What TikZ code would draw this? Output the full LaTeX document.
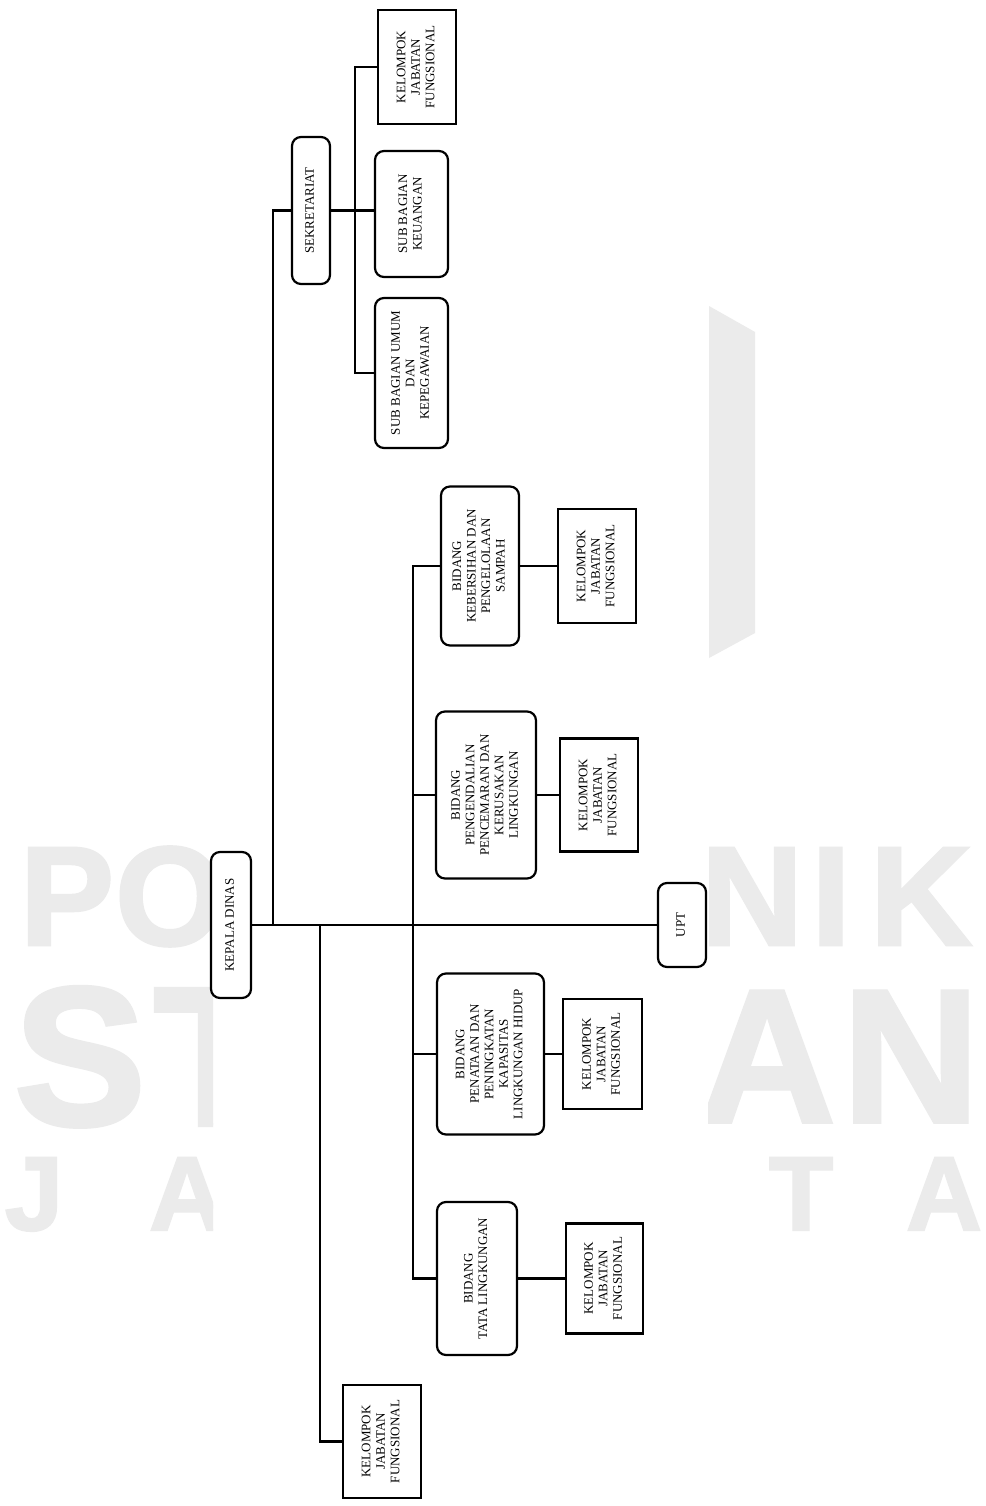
\documentclass[tikz,border=0pt]{standalone}
\usepackage{fontspec}
\setmainfont{Liberation Serif}
\newfontfamily\wmfont{Liberation Sans}[BoldFeatures={FakeBold=2}]
\usepackage{graphicx}
\definecolor{wm}{RGB}{235,235,235}
\newcommand{\rt}[1]{\rotatebox{90}{\begin{tabular}{@{}c@{}}#1\end{tabular}}}
\tikzset{
  box/.style={draw=black, line width=2.2pt, fill=white, inner sep=0pt, text=black,
    font=\fontsize{13}{14.5}\selectfont},
  rbox/.style={box, rounded corners=9pt},
  sbox/.style={box},
  conn/.style={draw=black, line width=2.2pt},
  wmbase/.style={text=wm, inner sep=0pt, anchor=base},
  wmA/.style={wmbase, font=\wmfont\bfseries\fontsize{141}{141}\selectfont},
  wmB/.style={wmbase, font=\wmfont\bfseries\fontsize{198}{198}\selectfont},
  wmC/.style={wmbase, font=\wmfont\bfseries\fontsize{190}{190}\selectfont},
  wmD/.style={wmbase, font=\wmfont\bfseries\fontsize{105}{105}\selectfont},
}
\begin{document}
\begin{tikzpicture}[x=1pt,y=-1pt]
\useasboundingbox (0,0) rectangle (985,1506);
\fill[white] (0,0) rectangle (985,1506);

% watermark
\fill[wm] (709,306) -- (755,332) -- (755,633) -- (709,658) -- cycle;
\begin{scope}
  \clip (0,0) rectangle (213,1506);
  \node[wmA] (wp) at (67,945) {P};
  \node[wmA] (wo) at (170,945) {O};
  \node[wmB] (ws) at (80,1125) {S};
  \node[wmB] (wt) at (214,1125) {T};
  \node[wmD] (wj) at (34,1230) {J};
  \node[wmD] (wa) at (187,1230) {A};
\end{scope}
\begin{scope}
  \clip (708,0) rectangle (985,1506);
  \node[wmA] (wn) at (752,945) {N};
  \node[wmA] (wi) at (831,945) {I};
  \node[wmA] (wk) at (921,945) {K};
  \node[wmC] (wa2) at (767,1122) {A};
  \node[wmC] (wn2) at (911,1122) {N};
  \node[wmD] (wt2) at (801,1230) {T};
  \node[wmD] (wa3) at (944,1230) {A};
\end{scope}

% boxes
\node[rbox, minimum width=40pt, minimum height=146pt] (kepala) at (231,925) {\rt{KEPALA DINAS}};
\node[rbox, minimum width=48pt, minimum height=84pt] (upt) at (682,925) {\rt{UPT}};
\node[rbox, minimum width=38pt, minimum height=147pt] (sekr) at (311,210.5) {\rt{SEKRETARIAT}};
\node[sbox, minimum width=78pt, minimum height=114pt] (kjfa) at (417,67) {\rt{KELOMPOK\\JABATAN\\FUNGSIONAL}};
\node[rbox, minimum width=73pt, minimum height=126pt] (keu) at (411.5,214) {\rt{SUB BAGIAN\\KEUANGAN}};
\node[rbox, minimum width=73pt, minimum height=150pt] (umum) at (411.5,373) {\rt{SUB BAGIAN UMUM\\DAN\\KEPEGAWAIAN}};

\node[rbox, minimum width=78pt, minimum height=159pt] (keb) at (480,566) {\rt{BIDANG\\KEBERSIHAN DAN\\PENGELOLAAN\\SAMPAH}};
\node[sbox, minimum width=78pt, minimum height=114pt] (kjfb) at (597,566) {\rt{KELOMPOK\\JABATAN\\FUNGSIONAL}};
\node[rbox, minimum width=100pt, minimum height=167pt] (peng) at (486,795) {\rt{BIDANG\\PENGENDALIAN\\PENCEMARAN DAN\\KERUSAKAN\\LINGKUNGAN}};
\node[sbox, minimum width=78pt, minimum height=113pt] (kjfc) at (599,795) {\rt{KELOMPOK\\JABATAN\\FUNGSIONAL}};
\node[rbox, minimum width=107pt, minimum height=161pt] (pen) at (490.5,1054) {\rt{BIDANG\\PENATAAN DAN\\PENINGKATAN\\KAPASITAS\\LINGKUNGAN HIDUP}};
\node[sbox, minimum width=79pt, minimum height=110pt] (kjfd) at (602.5,1054) {\rt{KELOMPOK\\JABATAN\\FUNGSIONAL}};
\node[rbox, minimum width=80pt, minimum height=153pt] (tata) at (477,1278.5) {\rt{BIDANG\\TATA LINGKUNGAN}};
\node[sbox, minimum width=77pt, minimum height=110pt] (kjfe) at (604.5,1278.5) {\rt{KELOMPOK\\JABATAN\\FUNGSIONAL}};
\node[sbox, minimum width=78pt, minimum height=113pt] (kjff) at (382,1441.5) {\rt{KELOMPOK\\JABATAN\\FUNGSIONAL}};

% connectors
\coordinate (j1) at (273,925);
\coordinate (j2) at (320,925);
\coordinate (bv) at (413,925);
\coordinate (sv) at (355,210);
\draw[conn] (kepala.east) -- (upt.west);
\draw[conn] (j1) |- (sekr.west);
\draw[conn] (sekr.east) -- (sekr.east -| keu.west);
\draw[conn] (kjfa.west) -- (sv |- kjfa.west) -- (sv |- umum.west) -- (umum.west);
\draw[conn] (keb.west) -- (bv |- keb.west) -- (bv |- tata.west) -- (tata.west);
\draw[conn] (bv |- peng.west) -- (peng.west);
\draw[conn] (bv |- pen.west) -- (pen.west);
\draw[conn] (keb.east) -- (kjfb.west);
\draw[conn] (peng.east) -- (kjfc.west);
\draw[conn] (pen.east) -- (kjfd.west);
\draw[conn] (tata.east) -- (kjfe.west);
\draw[conn] (j2) |- (kjff.west);
\end{tikzpicture}
\end{document}
